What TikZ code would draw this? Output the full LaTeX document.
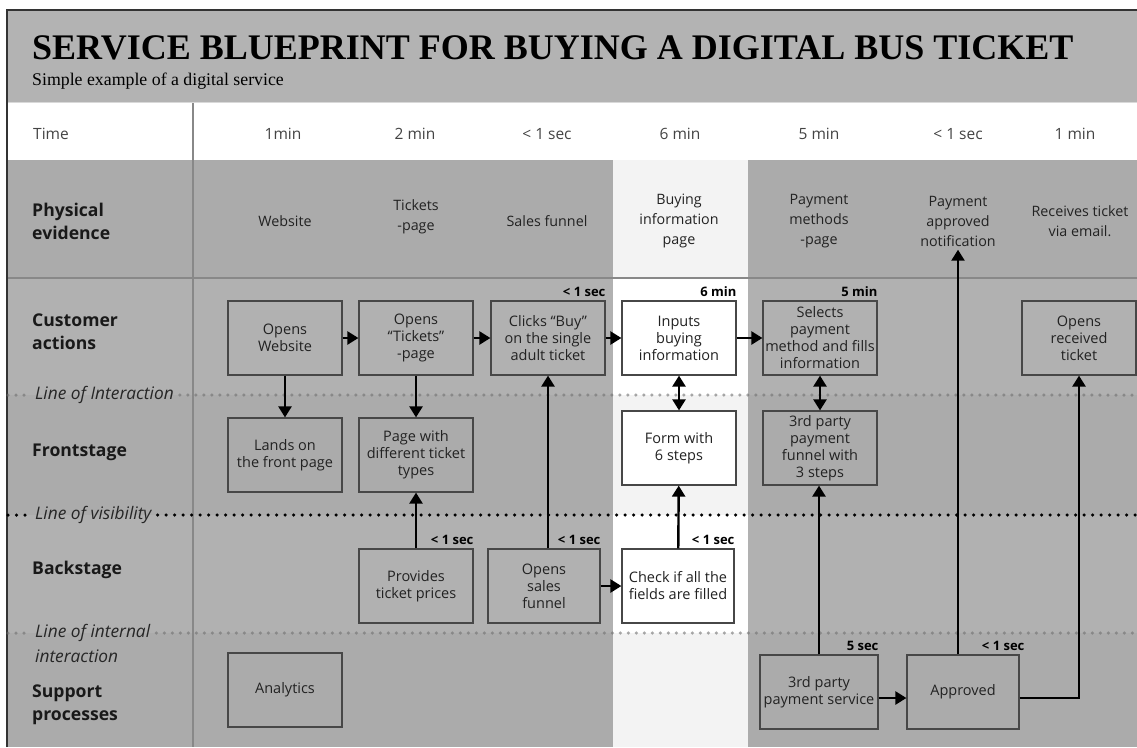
\documentclass[tikz,border=0pt]{standalone}
\usepackage{fontspec}
\setmainfont{Open Sans}
\newfontfamily\seriffont{Liberation Serif}
\usetikzlibrary{arrows.meta}

\definecolor{bandgray}{HTML}{B3B3B3}
\definecolor{rowdark}{HTML}{ABABAB}
\definecolor{rowlight}{HTML}{B1B1B1}
\definecolor{hidark}{HTML}{F3F3F3}
\definecolor{framegray}{HTML}{333333}
\definecolor{rulegray}{HTML}{888888}
\definecolor{boxline}{HTML}{474747}
\definecolor{inktext}{HTML}{222222}
\definecolor{timetext}{HTML}{444444}
\definecolor{dotgray}{HTML}{6F6F6F}

\tikzset{
  box/.style={draw=boxline,line width=1.2pt,minimum width=114pt,minimum height=74pt,inner sep=1pt,align=center,text=inktext,font=\fontsize{14.5}{17}\selectfont},
  wbox/.style={box,fill=white},
  flow/.style={line width=2.4pt,-{Triangle[length=11pt,width=13pt]}},
  both/.style={line width=2.4pt,{Triangle[length=11pt,width=13pt]}-{Triangle[length=11pt,width=13pt]}},
  tlabel/.style={anchor=base east,inner sep=0pt,font=\bfseries\fontsize{13}{14}\selectfont},
  lane/.style={anchor=west,align=left,inner sep=0pt,font=\bfseries\fontsize{17.6}{23}\selectfont,text=black!90},
  evidence/.style={align=center,text=inktext,font=\fontsize{14.3}{20}\selectfont},
  timeval/.style={text=timetext,font=\fontsize{15.5}{18}\selectfont},
  linelabel/.style={anchor=west,inner sep=6pt,font=\itshape\fontsize{17.3}{22}\selectfont,text=black!85},
  softline/.style={draw=dotgray,draw opacity=0.6,line width=3.5pt,line cap=round,dash pattern=on 0pt off 8pt},
  hardline/.style={draw=black,line width=3.5pt,line cap=round,dash pattern=on 0pt off 8.5pt},
}

\begin{document}
\begin{tikzpicture}[x=1pt,y=-1pt]
\useasboundingbox (0,0) rectangle (1137,747);

\fill[bandgray] (7,10) rectangle (1137,102);
\fill[white] (7,102) rectangle (1137,160);
\foreach \ya/\yb/\lane/\hi in {160/278/rowdark/hidark,278/395/rowlight/white,395/515/rowdark/hidark,515/633/rowlight/white,633/747/rowdark/hidark}{
  \fill[\lane] (7,\ya) rectangle (1137,\yb);
  \fill[\hi] (613,\ya) rectangle (748,\yb);
}
\draw[rulegray,line width=2pt] (193,102) -- (193,747);
\draw[rulegray,line width=1.5pt] (7,278) -- (1137,278);
\draw[white!85!black,line width=1pt] (7,102) -- (1137,102);
\draw[framegray,line width=1.5pt] (7,747) -- (7,10) -- (1137,10);

\node[anchor=base west,inner sep=0pt,font=\seriffont\bfseries\fontsize{36}{40}\selectfont] (title) at (32,59) {SERVICE BLUEPRINT FOR BUYING A DIGITAL BUS TICKET};
\node[anchor=base west,inner sep=0pt,font=\seriffont\fontsize{17.8}{20}\selectfont] (subtitle) at (32,85) {Simple example of a digital service};

\node[timeval,anchor=west,inner sep=0pt] (tTime) at (33,134) {Time};
\node[timeval] (t1) at (283,134) {1min};
\node[timeval] (t2) at (415,134) {2 min};
\node[timeval] (t3) at (547,134) {< 1 sec};
\node[timeval] (t4) at (680,134) {6 min};
\node[timeval] (t5) at (819,134) {5 min};
\node[timeval] (t6) at (958,134) {< 1 sec};
\node[timeval] (t7) at (1075,134) {1 min};

\node[lane] (lEvidence) at (32,221) {Physical\\evidence};
\node[lane] (lCustomer) at (32,332) {Customer\\actions};
\node[lane] (lFront) at (32,452) {Frontstage};
\node[lane] (lBack) at (32,570) {Backstage};
\node[lane] (lSupport) at (32,705) {Support\\processes};

\node[linelabel] (lInter) at (29,395) {Line of Interaction};
\draw[softline] (8,395) -- (lInter.west);
\draw[softline] (lInter.east) -- (1137,395);
\node[linelabel] (lVis) at (29,515) {Line of visibility};
\draw[hardline] (8,515) -- (lVis.west);
\draw[hardline] (lVis.east) -- (1137,515);
\node[linelabel] (lInt) at (29,633) {Line of internal};
\node[linelabel] (lInt2) at (29,656) {interaction};
\draw[softline] (8,633) -- (lInt.west);
\draw[softline] (lInt.east) -- (1137,633);

\node[evidence] (pWeb) at (285,221) {Website};
\node[evidence] (pTick) at (416,217) {Tickets\\-page};
\node[evidence] (pFunnel) at (547,221) {Sales funnel};
\node[evidence] (pBuy) at (679,221) {Buying\\information\\page};
\node[evidence] (pPay) at (819,221) {Payment\\methods\\-page};
\node[evidence] (pNotif) at (958,221) {Payment\\approved\\notification};
\node[evidence] (pEmail) at (1080,221) {Receives ticket\\via email.};

\node[box] (cOpen) at (285,338) {Opens\\Website};
\node[box] (cTick) at (416,338) {Opens\\“Tickets”\\-page};
\node[box] (cBuy) at (548,338) {Clicks “Buy”\\on the single\\adult ticket};
\node[wbox] (cInput) at (679,338) {Inputs\\buying\\information};
\node[box] (cPay) at (820,338) {Selects\\payment\\method and fills\\information};
\node[box] (cRecv) at (1079,338) {Opens\\received\\ticket};

\node[box] (fLand) at (285,455) {Lands on\\the front page};
\node[box] (fPage) at (416,455) {Page with\\different ticket\\types};
\node[wbox] (fForm) at (679,448) {Form with\\6 steps};
\node[box] (fFunnel) at (820,448) {3rd party\\payment\\funnel with\\3 steps};

\node[box] (bPrice) at (416,586) {Provides\\ticket prices};
\node[box,minimum width=112pt] (bFunnel) at (544,586) {Opens\\sales\\funnel};
\node[wbox,minimum width=112pt] (bCheck) at (678,586) {Check if all the\\fields are filled};

\node[box] (sAnal) at (285,690) {Analytics};
\node[box,minimum width=118pt] (sPay) at (819,692) {3rd party\\payment service};
\node[box,minimum width=112pt] (sAppr) at (963,692) {Approved};

\node[tlabel] (kBuy) at ([yshift=4pt]cBuy.north east) {< 1 sec};
\node[tlabel] (kInput) at ([yshift=4pt]cInput.north east) {6 min};
\node[tlabel] (kPay) at ([yshift=4pt]cPay.north east) {5 min};
\node[tlabel] (kPrice) at ([yshift=4pt]bPrice.north east) {< 1 sec};
\node[tlabel] (kFunnel) at ([yshift=4pt]bFunnel.north east) {< 1 sec};
\node[tlabel] (kCheck) at ([yshift=4pt]bCheck.north east) {< 1 sec};
\node[tlabel] (kSpay) at ([yshift=4pt]sPay.north east) {5 sec};
\node[tlabel] (kAppr) at ([xshift=5pt,yshift=4pt]sAppr.north east) {< 1 sec};

\draw[flow] (cOpen) -- (cTick);
\draw[flow] (cTick) -- (cBuy);
\draw[flow] (cBuy) -- (cInput);
\draw[flow] (cInput) -- (cPay);
\draw[flow] (cOpen) -- (fLand);
\draw[flow] (cTick) -- (fPage);
\draw[flow] (bPrice) -- (fPage);
\draw[flow] (cBuy.south |- bFunnel.north) -- (cBuy.south);
\draw[flow] (bFunnel.east |- bCheck.west) -- (bCheck.west);
\draw[flow] (bCheck) -- (fForm);
\draw[both] (cInput) -- (fForm);
\draw[both] (cPay) -- (fFunnel);
\draw[flow] (sPay.north) -- (sPay.north |- fFunnel.south);
\draw[flow] ([yshift=-6pt]sPay.east) -- ([yshift=-6pt]sAppr.west);
\draw[flow] (pNotif.south |- sAppr.north) -- (pNotif.south);
\draw[flow] ([yshift=-6pt]sAppr.east) -| (cRecv.south);
\end{tikzpicture}
\end{document}
